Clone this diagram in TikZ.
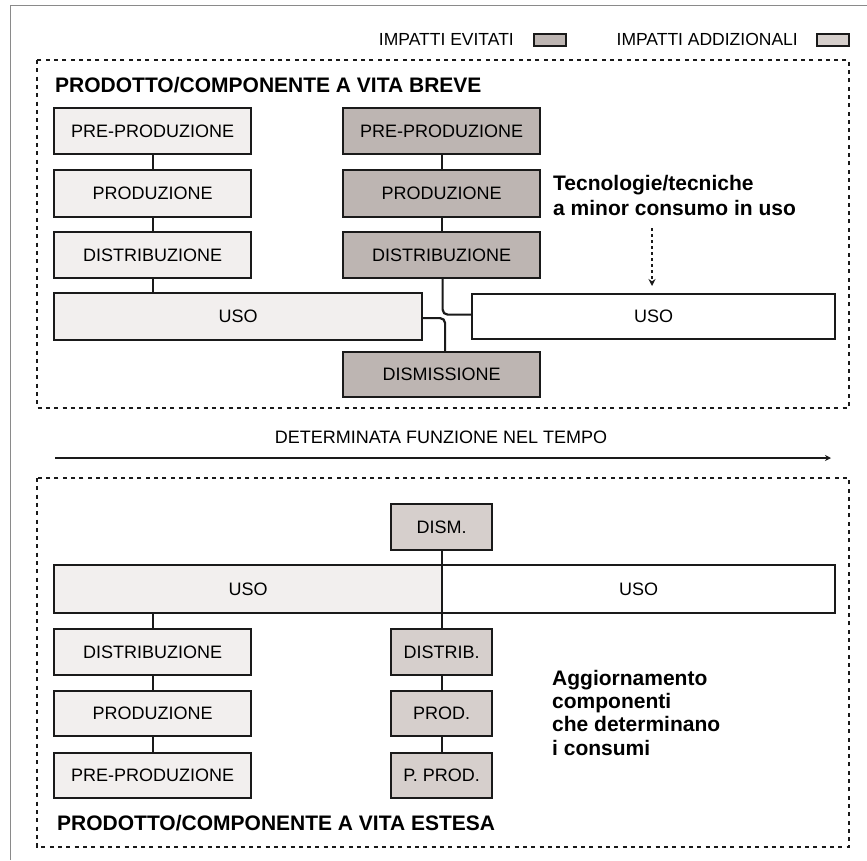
\documentclass[tikz,border=0pt]{standalone}
\usepackage{fontspec}
\setmainfont{Liberation Sans}
\usetikzlibrary{arrows.meta}
\definecolor{lightfill}{HTML}{F2EFEE}
\definecolor{darkfill}{HTML}{BDB5B2}
\definecolor{midfill}{HTML}{D6CFCC}
\definecolor{ink}{HTML}{1A1A1A}
\definecolor{framegray}{HTML}{8A8A8A}
\tikzset{
  box/.style={draw=ink, line width=2.2pt, inner sep=0pt, anchor=north west,
    font=\fontsize{18}{20}\selectfont},
  lbox/.style={box, fill=lightfill},
  dbox/.style={box, fill=darkfill},
  mbox/.style={box, fill=midfill},
  wbox/.style={box, fill=white},
  conn/.style={draw=ink, line width=2.2pt},
  dashframe/.style={draw=ink, line width=1.8pt, dash pattern=on 4pt off 4.3pt},
  boldtxt/.style={font=\fontsize{21}{25}\bfseries\selectfont, anchor=base west, inner sep=0pt},
  plaintxt/.style={font=\fontsize{17.5}{20}\selectfont, inner sep=0pt},
  legbox/.style={draw=ink, line width=1.8pt, inner sep=0pt, anchor=north west,
    minimum width=32pt, minimum height=12pt},
  timeline/.style={draw=ink, line width=2.4pt, -{Stealth[length=6pt,width=6pt]}},
  dasharr/.style={draw=ink, line width=1.8pt, dash pattern=on 3pt off 3pt,
    -{Stealth[length=7pt,width=7pt]}, shorten >=7pt}
}
\begin{document}
\begin{tikzpicture}[x=1pt,y=1pt]
\useasboundingbox (0,0) rectangle (867,-860);
\fill[white] (0,0) rectangle (867,-860);
% outer page lines
\draw[framegray, line width=1pt] (10,-860) -- (10,-5) -- (867,-5);

% legend
\node[plaintxt, anchor=base east] (legev) at (514,-45) {IMPATTI EVITATI};
\node[legbox, fill=darkfill] (legevbox) at (533,-33) {};
\node[plaintxt, anchor=base east] (legad) at (798,-45) {IMPATTI ADDIZIONALI};
\node[legbox, fill=midfill] (legadbox) at (816,-33) {};

% ---------- top frame ----------
\draw[dashframe] (37,-60) rectangle (849,-408);
\node[boldtxt] (ttop) at (55,-92) {PRODOTTO/COMPONENTE A VITA BREVE};

\node[lbox, minimum width=197pt, minimum height=46pt] (l1) at (53,-107) {PRE-PRODUZIONE};
\node[lbox, minimum width=197pt, minimum height=47pt] (l2) at (53,-169) {PRODUZIONE};
\node[lbox, minimum width=197pt, minimum height=46pt] (l3) at (53,-231) {DISTRIBUZIONE};
\node[lbox, minimum width=368pt, minimum height=47pt] (usoL) at (53,-292) {USO};

\node[dbox, minimum width=197pt, minimum height=46pt] (r1) at (342,-107) {PRE-PRODUZIONE};
\node[dbox, minimum width=197pt, minimum height=47pt] (r2) at (342,-169) {PRODUZIONE};
\node[dbox, minimum width=197pt, minimum height=46pt] (r3) at (342,-231) {DISTRIBUZIONE};
\node[dbox, minimum width=197pt, minimum height=45pt] (dism) at (342,-351) {DISMISSIONE};
\node[wbox, minimum width=363pt, minimum height=45pt] (usoR) at (471,-293) {USO};

\draw[conn] (l1.south) -- (l2.north);
\draw[conn] (l2.south) -- (l3.north);
\draw[conn] (l3.south) -- (l3.south |- usoL.north);
\draw[conn] (r1.south) -- (r2.north);
\draw[conn] (r2.south) -- (r3.north);
\draw[conn, rounded corners=5pt] ([xshift=1pt]r3.south) |- ([yshift=2pt]usoR.west);
\draw[conn, rounded corners=5pt] ([yshift=-1.5pt]usoL.east) -| ([xshift=3.5pt]dism.north);

\node[boldtxt] (tech1) at (553,-190) {Tecnologie/tecniche};
\node[boldtxt] (tech2) at (553,-215) {a minor consumo in uso};
\coordinate (arrS) at (652,-228);
\draw[dasharr] (arrS) -- (arrS |- usoR.north);

% ---------- timeline ----------
\node[plaintxt, font=\fontsize{18}{20}\selectfont, anchor=base] (mid) at (441,-443) {DETERMINATA FUNZIONE NEL TEMPO};
\coordinate (tl0) at (55,-458);
\coordinate (tl1) at (831,-458);
\draw[timeline] (tl0) -- (tl1);

% ---------- bottom frame ----------
\draw[dashframe] (37,-478) rectangle (849,-847);

\node[mbox, minimum width=101pt, minimum height=46pt] (dism2) at (390,-503) {DISM.};
\node[lbox, minimum width=388pt, minimum height=48pt] (usoLb) at (53,-564) {USO};
\node[wbox, minimum width=393pt, minimum height=48pt] (usoRb) at (441,-564) {USO};

\node[lbox, minimum width=197pt, minimum height=46pt] (dL) at (53,-628) {DISTRIBUZIONE};
\node[lbox, minimum width=197pt, minimum height=45pt] (pL) at (53,-690) {PRODUZIONE};
\node[lbox, minimum width=197pt, minimum height=45pt] (ppL) at (53,-752) {PRE-PRODUZIONE};

\node[mbox, minimum width=101pt, minimum height=46pt] (dR) at (390,-628) {DISTRIB.};
\node[mbox, minimum width=101pt, minimum height=45pt] (pR) at (390,-690) {PROD.};
\node[mbox, minimum width=101pt, minimum height=45pt] (ppR) at (390,-752) {P. PROD.};

\draw[conn] (dL.north) -- (dL.north |- usoLb.south);
\draw[conn] (dL.south) -- (pL.north);
\draw[conn] (pL.south) -- (ppL.north);
\draw[conn] (dism2.south) -- (dR.north);
\draw[conn] (dR.south) -- (pR.north);
\draw[conn] (pR.south) -- (ppR.north);

\node[boldtxt] (agg1) at (552,-685) {Aggiornamento};
\node[boldtxt] (agg2) at (552,-708) {componenti};
\node[boldtxt] (agg3) at (552,-731) {che determinano};
\node[boldtxt] (agg4) at (552,-755) {i consumi};

\node[boldtxt] (tbot) at (57,-830) {PRODOTTO/COMPONENTE A VITA ESTESA};
\end{tikzpicture}
\end{document}
